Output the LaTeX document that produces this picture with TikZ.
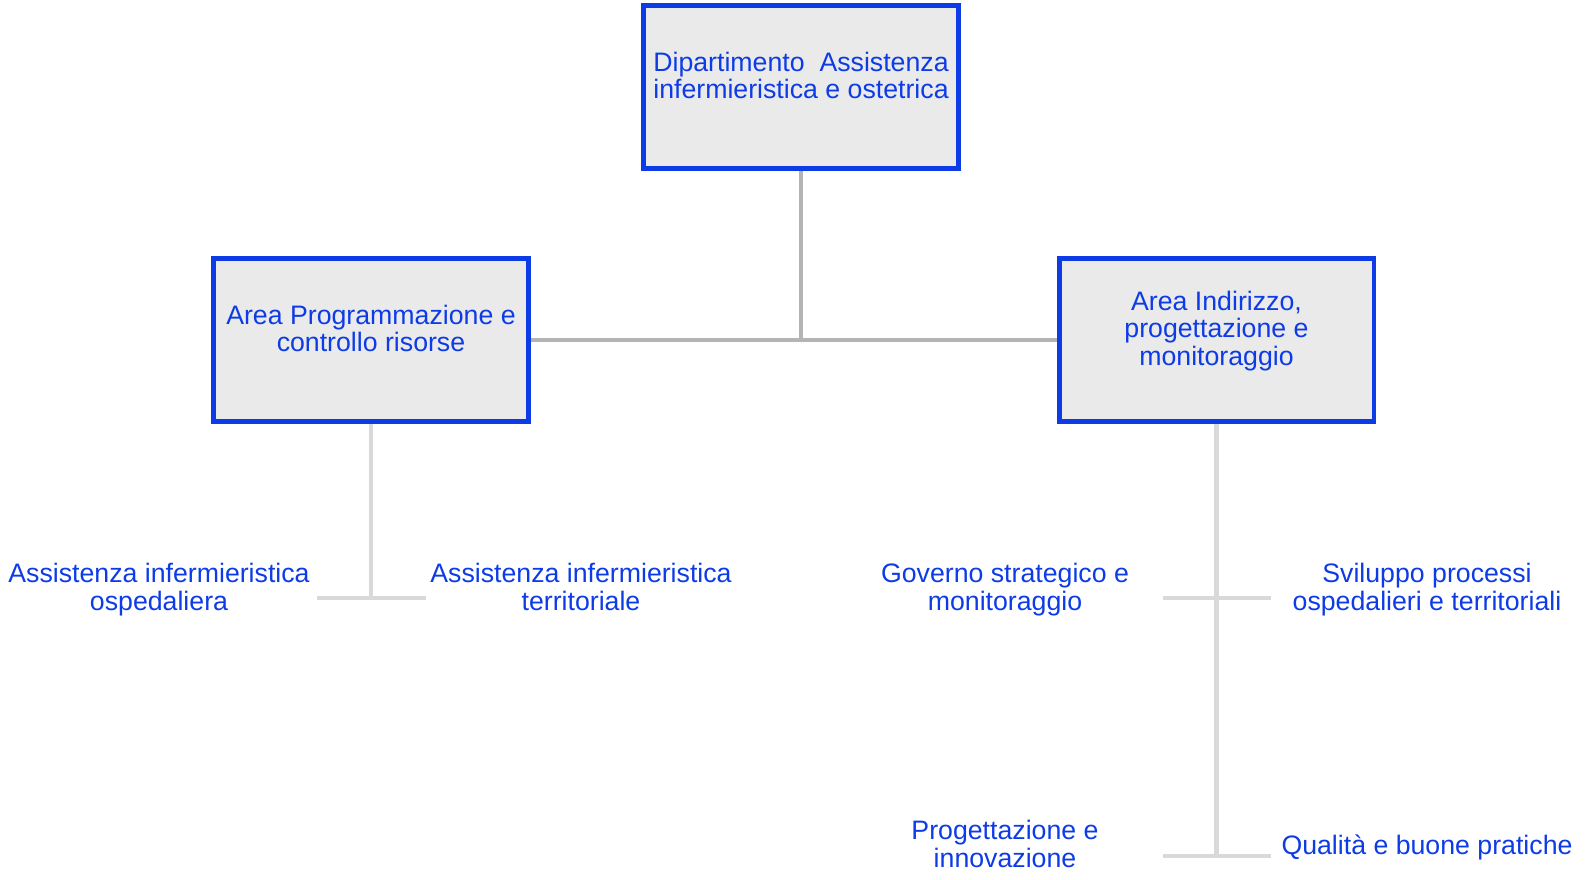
\documentclass[tikz,border=0pt]{standalone}
\usepackage{fontspec}
\setmainfont{Liberation Sans}
\definecolor{blu}{RGB}{13,59,230}
\definecolor{grigio}{RGB}{234,234,234}
\definecolor{lineasu}{RGB}{180,180,180}
\definecolor{lineagiu}{RGB}{217,217,217}

\begin{document}
\begin{tikzpicture}
                        [
                            x=0.02cm, y=-0.02cm,
                            square/.style = {draw=blu, fill=grigio, shape=rectangle, minimum height=3.26cm, minimum width=6.3cm, line width=2.8pt, text=blu, align=center, font=\fontsize{15.2}{15.8}\selectfont, text depth=0.47cm},
                            voce/.style = {shape=rectangle, text=blu, align=center, font=\fontsize{15.2}{15.8}\selectfont, text depth=0pt},
                            upline/.style = {draw=lineasu, line width=2.3pt},
                            lowline/.style = {draw=lineagiu, line width=2.3pt},
                        ]

                        \useasboundingbox (0,0) rectangle (1585,879);

                        \node[square] (dip) at (801,87)   {Dipartimento\ \ Assistenza\\infermieristica e ostetrica};
                        \node[square] (prog) at (371,340)   {Area Programmazione e\\controllo risorse};
                        \node[square] (ind) at (1216.5,340)   {Area Indirizzo,\\progettazione e\\monitoraggio};

                        \node[voce] (osp) at (159,587)     {Assistenza infermieristica\\ospedaliera};
                        \node[voce] (terr) at (581,587)     {Assistenza infermieristica\\territoriale};
                        \node[voce] (gov) at (1005,587)     {Governo strategico e\\monitoraggio};
                        \node[voce] (svi) at (1427,587)     {Sviluppo processi\\ospedalieri e territoriali};
                        \node[voce] (inn) at (1005,844)     {Progettazione e\\innovazione};
                        \node[voce] (qual) at (1427,845)     {Qualità e buone pratiche};

                        \coordinate (pa) at (371,598);
                        \coordinate (ga) at (1216.5,598);
                        \coordinate (gb) at (1216.5,856);

                        \draw [upline] (prog.east) -- (ind.west);
                        \draw [upline] (dip.south) -- (dip.south |- prog.east);

                        \draw [lowline] (prog.south) -- (pa);
                        \draw [lowline] (pa) ++(-54,0) -- ++(109,0);

                        \draw [lowline] (ind.south) -- (gb);
                        \draw [lowline] (ga) ++(-54,0) -- ++(108,0);
                        \draw [lowline] (gb) ++(-54,0) -- ++(108,0);

                    \end{tikzpicture}
\end{document}
